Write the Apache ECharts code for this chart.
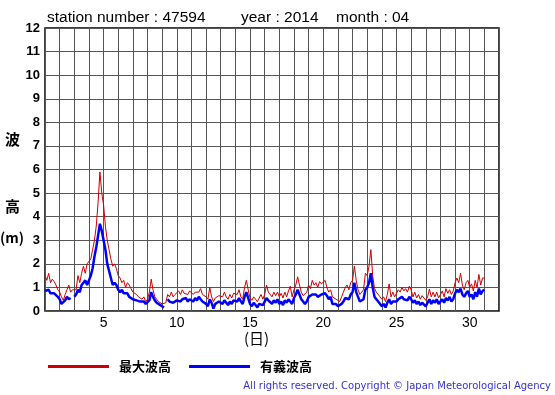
<!DOCTYPE html>
<html><head><meta charset="utf-8">
<script src="https://cdn.jsdelivr.net/npm/echarts@6/dist/echarts.min.js"></script>
<style>html,body{margin:0;padding:0;background:#fff}#c{width:555px;height:395px}</style>
</head><body><div id="c"></div>
<script>
// 3-hourly readings starting at day 1 00:00 (8 per day), ending at day 31 00:00
const startDay = 1;
const stepDays = 0.125;
const maxWave = [
 1.5,1.3,1.6,1.2,1.35,1.25,1.1,0.9,
 0.8,0.6,0.45,0.7,0.9,1.1,0.8,0.9,
 0.9,0.9,1.5,1.2,1.6,1.9,1.6,2.0,
 2.0,2.2,2.6,3.0,3.6,4.6,5.9,5.0,
 4.5,3.6,3.0,2.6,2.2,1.9,2.0,1.8,
 1.5,1.4,1.2,1.3,1.0,1.2,1.1,0.95,
 0.8,0.85,0.7,0.6,0.65,0.5,0.6,0.4,
 0.5,0.8,1.35,0.9,0.6,0.5,0.4,0.35,
 0.3,0.3,0.35,0.7,0.6,0.8,0.6,0.7,
 0.75,0.85,0.7,0.9,0.75,0.8,0.7,0.85,
 0.8,0.7,0.8,0.75,0.8,0.95,0.7,0.75,
 0.6,0.5,1.0,0.6,0.4,0.55,0.5,0.65,
 0.7,0.6,0.8,0.6,0.5,0.7,0.55,0.75,
 0.75,0.7,0.9,0.6,0.5,1.0,1.3,0.9,
 0.55,0.45,0.6,0.5,0.4,0.55,0.7,0.5,
 0.7,1.1,0.8,0.85,0.6,0.8,0.65,0.8,
 0.6,0.75,0.55,0.8,0.6,0.85,1.05,0.6,
 0.9,1.1,1.45,1.1,0.8,0.65,0.6,0.8,
 1.1,0.95,1.3,1.1,1.2,1.0,1.25,1.15,
 1.2,1.3,1.0,0.8,0.9,0.6,0.55,0.5,
 0.5,0.4,0.6,0.8,1.0,1.1,0.9,1.2,
 1.3,1.9,1.3,0.9,0.7,0.8,0.9,1.6,
 1.5,1.9,2.6,1.5,0.95,0.8,0.7,0.6,
 0.5,0.6,0.4,0.7,1.15,0.6,0.8,0.6,
 0.75,0.9,0.8,1.0,0.85,0.95,0.8,1.05,
 0.9,0.6,0.8,0.55,0.7,0.5,0.65,0.55,
 0.45,0.6,0.93,0.6,0.8,0.6,0.8,0.55,
 0.7,0.85,0.6,0.95,0.75,0.9,0.7,0.85,
 1.2,1.4,1.2,1.6,1.1,0.9,1.2,1.3,
 1.0,1.15,0.85,1.3,1.0,1.55,1.1,1.4,
 1.4
];
const sigWave = [
 0.85,0.8,0.9,0.75,0.8,0.75,0.7,0.6,
 0.5,0.3,0.3,0.45,0.6,0.5,0.55,null,
 0.6,0.7,0.9,0.8,1.1,1.2,1.3,1.1,
 1.3,1.5,1.8,2.3,2.7,3.2,3.7,3.4,
 3.0,2.6,2.0,1.7,1.4,1.1,1.2,1.1,
 0.9,0.8,0.9,0.75,0.7,0.75,0.6,0.6,
 0.5,0.55,0.45,0.45,0.4,0.35,0.4,0.3,
 0.35,0.45,0.8,0.6,0.45,0.35,0.3,0.25,
 0.2,0.15,null,0.5,0.4,0.45,0.35,0.4,
 0.45,0.5,0.4,0.5,0.45,0.55,0.4,0.5,
 0.5,0.4,0.55,0.45,0.6,0.5,0.4,0.45,
 0.3,0.2,0.5,0.35,0.1,0.3,0.25,0.4,
 0.4,0.3,0.45,0.35,0.25,0.4,0.3,0.45,
 0.45,0.4,0.55,0.4,0.3,0.6,0.8,0.55,
 0.3,0.2,0.35,0.25,0.15,0.3,0.35,0.25,
 0.4,0.55,0.45,0.5,0.3,0.45,0.35,0.5,
 0.3,0.4,0.25,0.45,0.35,0.5,0.45,0.3,
 0.55,0.7,0.9,0.7,0.5,0.4,0.3,0.4,
 0.6,0.55,0.7,0.65,0.7,0.6,0.65,0.7,
 0.7,0.75,0.65,0.5,0.6,0.3,0.25,0.3,
 0.2,0.15,0.3,0.4,0.55,0.6,0.5,0.7,
 0.8,1.2,0.8,0.6,0.4,0.45,0.5,0.9,
 1.0,1.2,1.6,1.0,0.6,0.5,0.4,0.35,
 0.2,0.3,0.15,0.35,0.5,0.3,0.4,0.35,
 0.4,0.5,0.45,0.6,0.5,0.55,0.45,0.6,
 0.5,0.35,0.45,0.3,0.4,0.25,0.35,0.3,
 0.2,0.35,0.5,0.3,0.45,0.35,0.5,0.3,
 0.4,0.5,0.35,0.55,0.45,0.6,0.4,0.5,
 0.75,0.9,0.8,0.95,0.7,0.6,0.75,0.85,
 0.6,0.7,0.5,0.8,0.6,0.95,0.7,0.85,
 0.9
];
const xTickLabels = [5,10,15,20,25,30];
const yTickLabels = [0,1,2,3,4,5,6,7,8,9,10,11,12];
const seriesNames = ['最大波高','有義波高'];

const toPairs = arr => arr.map((v,i)=>[startDay + i*stepDays, v]);
const latin = '"Liberation Sans", Arial, sans-serif';
const cjk = '"Noto Sans CJK JP", sans-serif';

const chart = echarts.init(document.getElementById('c'), null, {renderer:'canvas'});
chart.setOption({
  animation:false,
  backgroundColor:'#fff',
  grid:{left:45, top:28, width:454, height:283, show:true, borderColor:'#000', borderWidth:1.5, backgroundColor:'transparent'},
  xAxis:{type:'value', min:1, max:32, interval:1,
    axisLine:{show:false}, axisTick:{show:false},
    splitLine:{show:true, lineStyle:{color:'#555', width:1}},
    axisLabel:{margin:5, fontSize:14, color:'#000', fontFamily:latin,
      formatter:v=> xTickLabels.indexOf(v)>=0 ? String(v) : ''}
  },
  yAxis:{type:'value', min:0, max:12, interval:1,
    axisLine:{show:false}, axisTick:{show:false},
    splitLine:{show:true, lineStyle:{color:'#555', width:1}},
    axisLabel:{margin:5, fontSize:13, fontWeight:'bold', color:'#000', fontFamily:latin,
      formatter:v=> yTickLabels.indexOf(v)>=0 ? String(v) : ''}
  },
  legend:{left:43, top:355, icon:'rect', itemWidth:61, itemHeight:3, itemGap:18,
    textStyle:{fontSize:13, fontWeight:'bold', color:'#000', fontFamily:cjk, padding:[0,0,0,5]},
    data:seriesNames},
  series:[
    {name:seriesNames[0], type:'line', data:toPairs(maxWave), showSymbol:false, connectNulls:false,
      lineStyle:{color:'#cc0000', width:1}, itemStyle:{color:'#cc0000'}},
    {name:seriesNames[1], type:'line', data:toPairs(sigWave), showSymbol:false, connectNulls:false,
      lineStyle:{color:'#0000ff', width:2.5}, itemStyle:{color:'#0000ff'}}
  ],
  graphic:[
    {type:'text', left:47, top:10, style:{text:'station number : 47594', font:'15.5px '+latin, fill:'#000'}},
    {type:'text', left:241, top:10, style:{text:'year : 2014', font:'15.5px '+latin, fill:'#000'}},
    {type:'text', left:336, top:10, style:{text:'month : 04', font:'15.5px '+latin, fill:'#000'}},
    {type:'text', left:5, top:132, style:{text:'波', font:'bold 15px '+cjk, fill:'#000'}},
    {type:'text', left:5, top:199, style:{text:'高', font:'bold 15px '+cjk, fill:'#000'}},
    {type:'text', left:0, top:231, style:{text:'(m)', font:'bold 14px '+cjk, fill:'#000'}},
    {type:'text', left:244, top:331, style:{text:'(日)', font:'15px '+cjk, fill:'#000'}},
    {type:'text', right:4, top:381, style:{text:'All rights reserved. Copyright © Japan Meteorological Agency', font:'10px "DejaVu Sans", sans-serif', fill:'#3333cc'}}
  ]
});
</script></body></html>
